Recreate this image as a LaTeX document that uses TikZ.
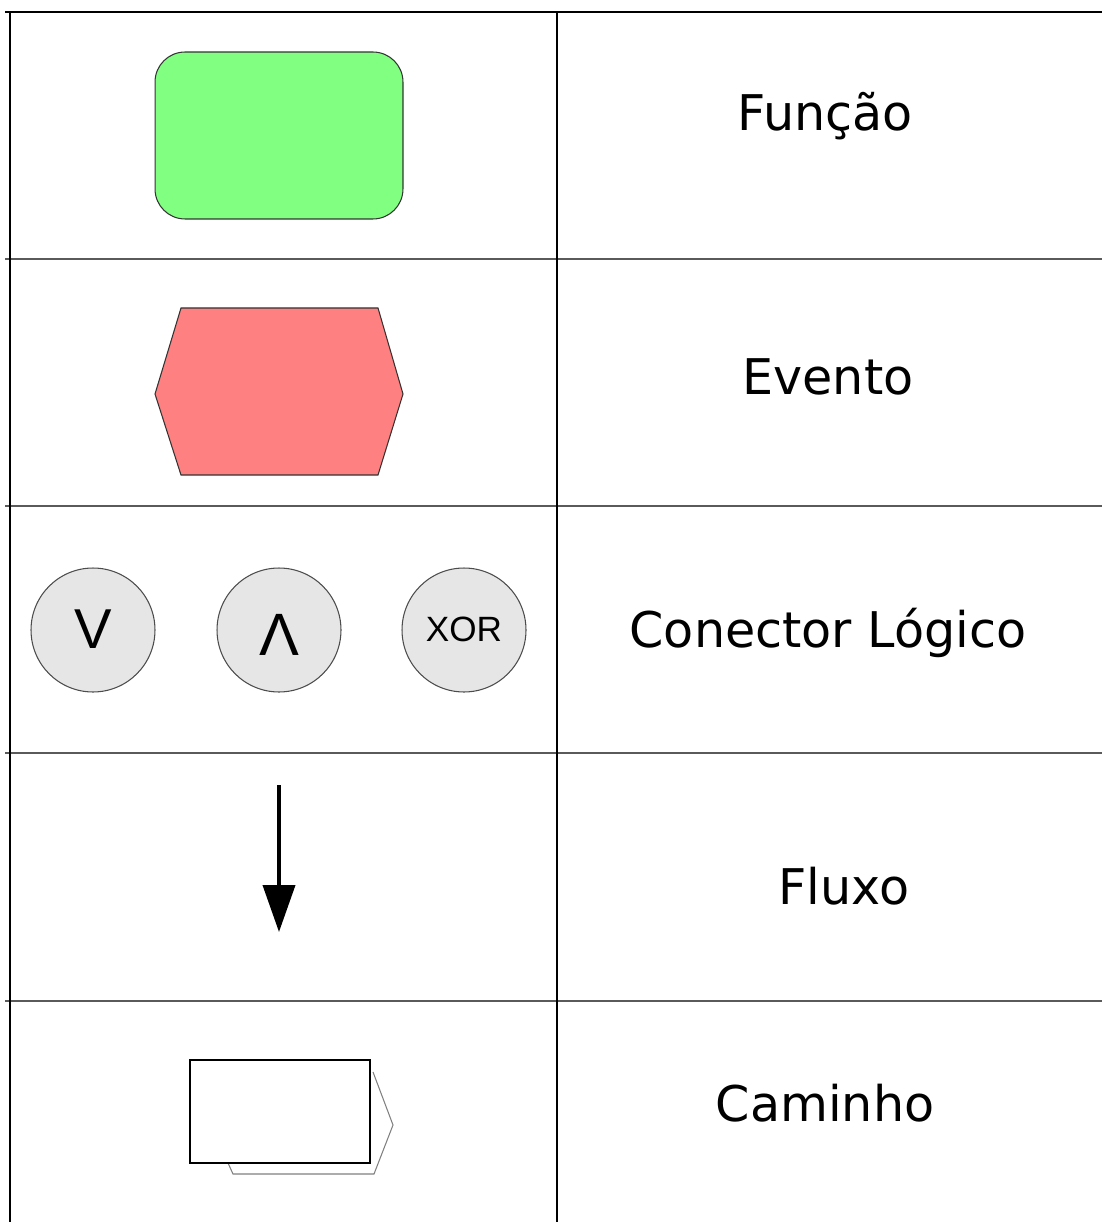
\documentclass[tikz,border=0pt]{standalone}
\usepackage{fontspec}
\setmainfont{DejaVu Sans}
\newfontfamily\symfont{Liberation Sans}
\definecolor{funcgreen}{RGB}{128,255,128}
\definecolor{eventred}{RGB}{255,128,128}
\definecolor{connfill}{RGB}{230,230,230}
\definecolor{rulegray}{RGB}{90,90,90}
\usetikzlibrary{arrows.meta,positioning}

\begin{document}
\begin{tikzpicture}[x=0.02cm,y=-0.02cm,
    label/.style={anchor=base,font=\fontsize{28}{32}\selectfont},
    conn/.style={circle,draw=black!70,line width=0.6pt,fill=connfill,minimum size=2.48cm,inner sep=0pt}]
        \useasboundingbox (0,0) rectangle (1102,1222);
        % table frame
        \draw[line width=1.1pt] (5,12) -- (1102,12);
        \foreach \y in {259,506,753,1001} \draw[rulegray,line width=0.7pt] (5,\y) -- (1102,\y);
        \draw[line width=1.7pt] (10,12) -- (10,1222);
        \draw[line width=1.3pt] (557,12) -- (557,1222);
        % function
        \node[draw=black!80,line width=0.6pt,fill=funcgreen,rounded corners=0.6cm,minimum width=4.96cm,minimum height=3.34cm] (funcao) at (279,135.5) {};
        \node[label] (tfuncao) at (825,131) {Função};
        % event
        \draw[draw=black!80,line width=0.6pt,fill=eventred] (181,308) -- (378,308) -- (403,394) -- (378,475) -- (181,475) -- (155,394) -- cycle;
        \node[label] (tevento) at (828,395) {Evento};
        % logic connectors
        \node[conn] (or) at (93,630) {};
        \node[conn] (and) at (279,630) {};
        \node[conn] (xor) at (464,630) {};
        \node[anchor=base,font=\symfont\fontsize{32}{36}\selectfont] at (93,648) {V};
        \node[anchor=base,font=\symfont\fontsize{34}{38}\selectfont] at (279,655) {Λ};
        \node[anchor=base,font=\symfont\fontsize{20}{24}\selectfont] at (464,641) {XOR};
        \node[label] (tconector) at (828,647) {Conector Lógico};
        % flow
        \coordinate (flowtop) at (279,785);
        \coordinate (flowtip) at (279,932);
        \draw[line width=2.2pt,-{Triangle[length=0.94cm,width=0.64cm]}] (flowtop) -- (flowtip);
        \node[label] (tfluxo) at (844,904) {Fluxo};
        % path
        \draw[gray,line width=0.6pt] (228,1163) -- (233,1174) -- (374,1174) -- (393,1125) -- (373,1072);
        \draw[line width=1.1pt,fill=white] (190,1060) rectangle (370,1163);
        \node[label] (tcaminho) at (825,1121) {Caminho};
      \end{tikzpicture}
\end{document}
